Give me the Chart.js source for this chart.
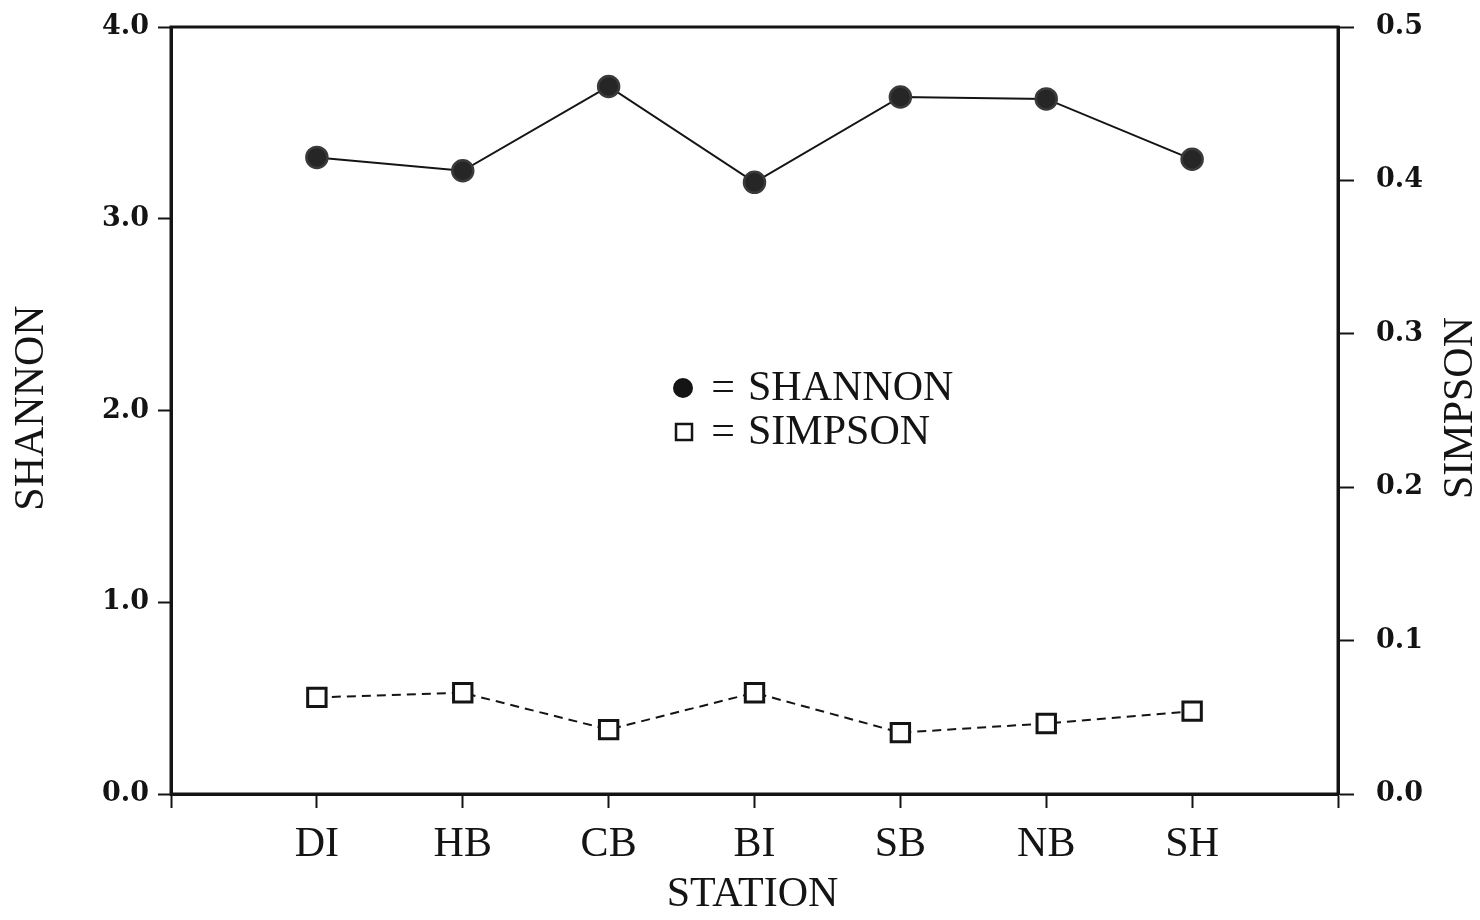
<!DOCTYPE html>
<html>
<head>
<meta charset="utf-8">
<script src="https://cdn.jsdelivr.net/npm/chart.js@4.4.1/dist/chart.umd.min.js"></script>
<style>
  html, body { margin: 0; padding: 0; background: #fff; }
  #wrap { width: 1480px; height: 920px; position: relative; }
</style>
</head>
<body>
<div id="wrap"><canvas id="c" width="1480" height="920"></canvas></div>
<script>
// Sampling stations along the x axis
const stations = ['DI', 'HB', 'CB', 'BI', 'SB', 'NB', 'SH'];
// Shannon diversity index (left axis)
const shannon = [3.32, 3.25, 3.69, 3.19, 3.635, 3.625, 3.31];
// Simpson index (right axis)
const simpson = [0.063, 0.066, 0.042, 0.066, 0.040, 0.046, 0.054];
// Axis tick values
const shannonTicks = [0.0, 1.0, 2.0, 3.0, 4.0];
const simpsonTicks = [0.0, 0.1, 0.2, 0.3, 0.4, 0.5];

const INK = '#141414';
const tickFont = { family: 'DejaVu Serif', size: 27, weight: 'bold' };
const labelFont = { family: 'Liberation Serif', size: 42 };

const toXY = (vals) => vals.map((v, i) => ({ x: i, y: v }));

// fixed-size vertical axes without label overflow padding
const fixWidth = (w) => (scale) => {
  scale.width = w;
  scale.paddingTop = 0;
  scale.paddingBottom = 0;
};

// Frame, axis titles and the in-plot key
const decorations = {
  id: 'decorations',
  afterDraw(chart) {
    const { ctx, chartArea: a } = chart;
    ctx.save();
    ctx.strokeStyle = INK;
    ctx.lineWidth = 3;
    ctx.strokeRect(a.left, a.top, a.right - a.left, a.bottom - a.top);

    ctx.fillStyle = INK;
    ctx.font = `${labelFont.size}px "${labelFont.family}"`;
    ctx.textAlign = 'center';
    ctx.textBaseline = 'middle';
    // x title
    ctx.fillText('STATION', (a.left + a.right) / 2 - 2, 895);
    // left title
    ctx.save();
    ctx.translate(32, 408);
    ctx.rotate(-Math.PI / 2);
    ctx.fillText('SHANNON', 0, 0);
    ctx.restore();
    // right title
    ctx.save();
    ctx.translate(1461, 408);
    ctx.rotate(-Math.PI / 2);
    ctx.fillText('SIMPSON', 0, 0);
    ctx.restore();

    // key
    ctx.beginPath();
    ctx.arc(683, 388, 10, 0, Math.PI * 2);
    ctx.fill();
    ctx.lineWidth = 2.5;
    ctx.strokeRect(676, 424, 16, 16);
    ctx.fillText('=', 723, 389);
    ctx.fillText('=', 723, 433);
    ctx.textAlign = 'left';
    ctx.fillText('SHANNON', 748, 389);
    ctx.fillText('SIMPSON', 748, 433);
    ctx.restore();
  }
};

new Chart(document.getElementById('c'), {
  type: 'line',
  data: {
    datasets: [
      {
        label: 'SHANNON',
        data: toXY(shannon),
        yAxisID: 'y',
        borderColor: INK,
        borderWidth: 2,
        pointStyle: 'circle',
        pointRadius: 10.5,
        pointHoverRadius: 10.5,
        pointBackgroundColor: '#262626',
        pointBorderColor: '#3a3a3a',
        pointBorderWidth: 2.5,
        tension: 0,
        clip: false
      },
      {
        label: 'SIMPSON',
        data: toXY(simpson),
        yAxisID: 'y1',
        borderColor: INK,
        borderWidth: 2,
        borderDash: [9, 6],
        pointStyle: 'rect',
        pointRadius: 13,
        pointHoverRadius: 13,
        pointBackgroundColor: '#fff',
        pointBorderColor: INK,
        pointBorderWidth: 3,
        tension: 0,
        clip: false
      }
    ]
  },
  options: {
    responsive: false,
    animation: false,
    layout: { autoPadding: false, padding: { top: 27, left: 0, right: 0, bottom: 0 } },
    plugins: { legend: { display: false }, tooltip: { enabled: false } },
    scales: {
      x: {
        type: 'linear',
        min: -1,
        max: 7,
        afterBuildTicks(scale) {
          scale.ticks = [-1, 0, 1, 2, 3, 4, 5, 6, 7].map(v => ({ value: v }));
        },
        afterFit(scale) {
          scale.height = 126;
          scale.paddingLeft = 0;
          scale.paddingRight = 0;
        },
        ticks: {
          callback: (v) => stations[v] ?? '',
          color: INK,
          font: labelFont,
          padding: 12,
          maxRotation: 0,
          autoSkip: false
        },
        grid: {
          drawOnChartArea: false,
          drawTicks: true,
          tickLength: 14,
          tickWidth: 2,
          tickColor: INK
        },
        border: { color: INK, width: 3 }
      },
      y: {
        position: 'left',
        min: 0,
        max: 4,
        afterBuildTicks(scale) {
          scale.ticks = shannonTicks.map(v => ({ value: v }));
        },
        afterFit: fixWidth(171),
        ticks: {
          callback: (v) => Number(v).toFixed(1),
          color: INK,
          font: tickFont,
          padding: 9
        },
        grid: {
          drawOnChartArea: false,
          tickLength: 13,
          tickWidth: 2,
          tickColor: INK
        },
        border: { color: INK, width: 3 }
      },
      y1: {
        position: 'right',
        min: 0,
        max: 0.5,
        afterBuildTicks(scale) {
          scale.ticks = simpsonTicks.map(v => ({ value: v }));
        },
        afterFit: fixWidth(142),
        ticks: {
          callback: (v) => Number(v).toFixed(1),
          color: INK,
          font: tickFont,
          padding: 22
        },
        grid: {
          drawOnChartArea: false,
          tickLength: 16,
          tickWidth: 2,
          tickColor: INK
        },
        border: { color: INK, width: 3 }
      }
    }
  },
  plugins: [decorations]
});
</script>
</body>
</html>
